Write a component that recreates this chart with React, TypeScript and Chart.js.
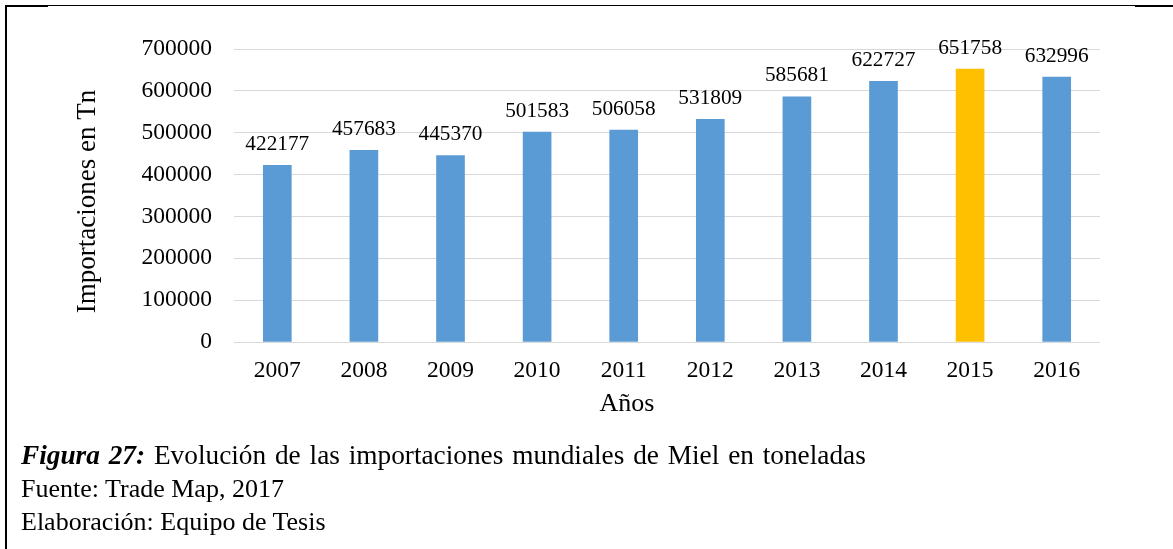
import React, { useEffect, useRef } from "react";
import { Chart, registerables } from "chart.js";

Chart.register(...registerables);

const years = ["2007", "2008", "2009", "2010", "2011", "2012", "2013", "2014", "2015", "2016"];
const imports = [422177, 457683, 445370, 501583, 506058, 531809, 585681, 622727, 651758, 632996];
const highlightYear = "2015";
const yMin = 0;
const yMax = 700000;
const yStep = 100000;
const yAxisTitle = "Importaciones en Tn";
const xAxisTitle = "Años";
const captionBold = "Figura 27:";
const captionRest = " Evolución de las importaciones mundiales de Miel en toneladas";
const sourceLine = "Fuente: Trade Map, 2017";
const authorLine = "Elaboración: Equipo de Tesis";

const FONT = "'Times New Roman', 'Liberation Serif', serif";
const BLUE = "#5B9BD5";
const GOLD = "#FFC000";

const labelsPlugin = {
  id: "labelsAndTitles",
  afterDraw(chart: any) {
    const ctx = chart.ctx;
    const area = chart.chartArea;
    const meta = chart.getDatasetMeta(0);
    ctx.save();
    ctx.fillStyle = "#000";
    ctx.font = `21.3px ${FONT}`;
    ctx.textAlign = "center";
    ctx.textBaseline = "alphabetic";
    meta.data.forEach((bar: any, i: number) => {
      ctx.fillText(String(imports[i]), bar.x, bar.y - 15.5);
    });
    // x axis title
    ctx.font = `26px ${FONT}`;
    ctx.fillText(xAxisTitle, area.left + 393, area.bottom + 69);
    // y axis title
    ctx.font = `27px ${FONT}`;
    ctx.translate(area.left - 139, (area.top + area.bottom) / 2 + 6);
    ctx.rotate(-Math.PI / 2);
    ctx.fillText(yAxisTitle, 0, 0);
    ctx.restore();
  },
};

export default function App() {
  const canvasRef = useRef<HTMLCanvasElement | null>(null);

  useEffect(() => {
    if (!canvasRef.current) return;
    const chart = new Chart(canvasRef.current, {
      type: "bar",
      data: {
        labels: years,
        datasets: [
          {
            data: imports,
            backgroundColor: years.map((y) => (y === highlightYear ? GOLD : BLUE)),
            borderWidth: 0,
            barThickness: 28,
          },
        ],
      },
      options: {
        responsive: false,
        animation: false,
        layout: { padding: { left: 0, right: 73, top: 49, bottom: 0 } },
        plugins: {
          legend: { display: false },
          tooltip: { enabled: false },
          title: { display: false },
        },
        scales: {
          x: {
            grid: { display: false, drawTicks: false },
            border: { display: false },
            ticks: {
              color: "#000",
              padding: 15,
              font: { family: FONT, size: 23.5 },
              maxRotation: 0,
            },
            afterFit: (scale: any) => {
              scale.height = 98;
            },
          },
          y: {
            min: yMin,
            max: yMax,
            grid: { color: "#D9D9D9", lineWidth: 1, drawTicks: false },
            border: { display: false },
            ticks: {
              stepSize: yStep,
              color: "#000",
              padding: 22,
              font: { family: FONT, size: 23.5 },
              callback: (v: any) => String(v),
            },
            afterFit: (scale: any) => {
              scale.width = 234;
            },
          },
        },
      },
      plugins: [labelsPlugin],
    });
    return () => chart.destroy();
  }, []);

  const textStyle: React.CSSProperties = {
    fontFamily: FONT,
    fontSize: "26px",
    color: "#000",
    lineHeight: "33px",
    whiteSpace: "nowrap",
  };

  return (
    <div
      style={{
        position: "absolute",
        left: 0,
        top: 0,
        width: 1173,
        height: 549,
        background: "#fff",
        overflow: "hidden",
      }}
    >
      <div style={{ position: "absolute", left: 5, top: 5, width: 1168, height: 1, background: "#000" }} />
      <div style={{ position: "absolute", left: 5, top: 5, width: 43, height: 2, background: "#000" }} />
      <div style={{ position: "absolute", left: 1135, top: 5, width: 38, height: 2, background: "#000" }} />
      <div style={{ position: "absolute", left: 5, top: 5, width: 2, height: 544, background: "#000" }} />
      <canvas
        ref={canvasRef}
        width={1173}
        height={440}
        style={{ position: "absolute", left: 0, top: 0, width: 1173, height: 440 }}
      />
      <div style={{ position: "absolute", left: 21, top: 439, ...textStyle }}>
        <div style={{ fontSize: "27.3px", wordSpacing: "2px" }}>
          <b>
            <i>{captionBold}</i>
          </b>
          {captionRest}
        </div>
        <div>{sourceLine}</div>
        <div>{authorLine}</div>
      </div>
    </div>
  );
}
